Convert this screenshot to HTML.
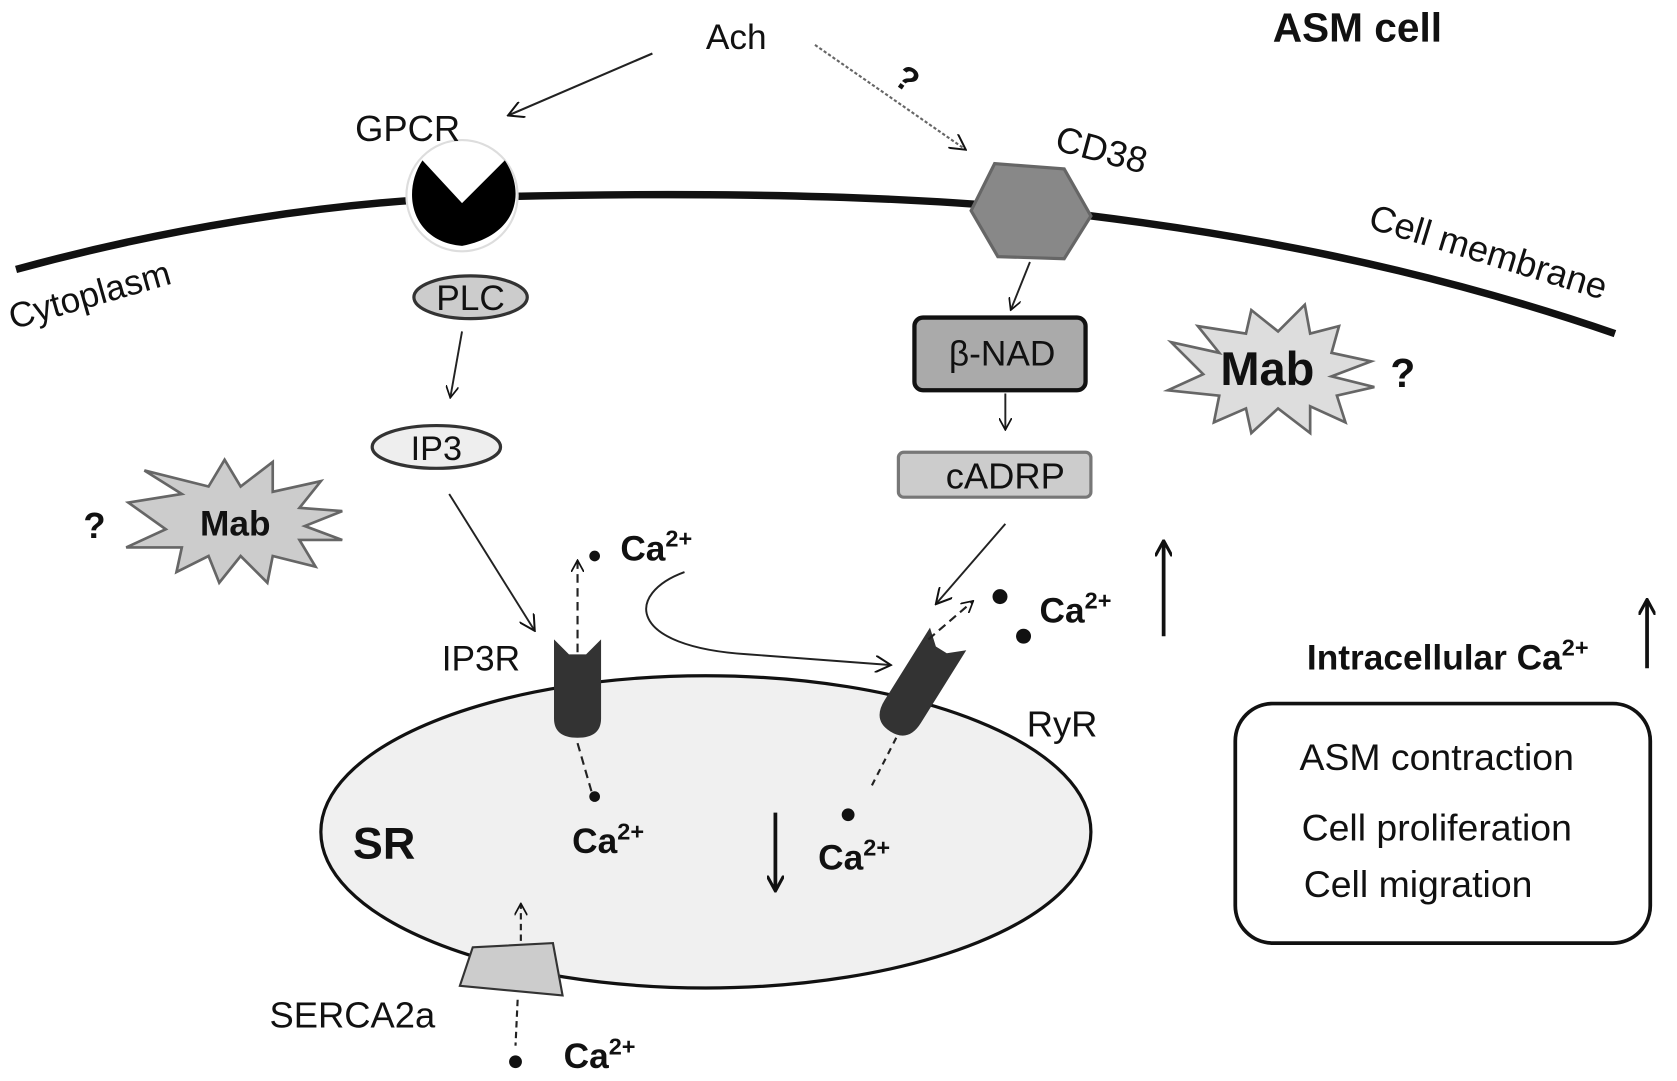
<!DOCTYPE html>
<html><head><meta charset="utf-8"><style>
html,body{margin:0;padding:0;background:#fff;}
svg{display:block;}
text{font-family:"Liberation Sans",Arial,sans-serif;fill:#111;}
.b{font-weight:bold;}
</style></head><body>
<svg width="1677" height="1081" viewBox="0 0 1568 1011" preserveAspectRatio="none" xmlns="http://www.w3.org/2000/svg">
<defs>
<marker id="oa" viewBox="0 0 12 12" refX="11" refY="6" markerWidth="12" markerHeight="12" markerUnits="userSpaceOnUse" orient="auto"><path d="M0,0 L11,6 L0,12" fill="none" stroke="#111" stroke-width="1.6"/></marker>
<marker id="oa2" viewBox="0 0 12 12" refX="11" refY="6" markerWidth="16" markerHeight="16" markerUnits="userSpaceOnUse" orient="auto"><path d="M0,0 L11,6 L0,12" fill="none" stroke="#111" stroke-width="1.4"/></marker>
<marker id="sa" viewBox="0 0 12 12" refX="10" refY="6" markerWidth="16" markerHeight="16" markerUnits="userSpaceOnUse" orient="auto"><path d="M0,0 L11,6 L0,12" fill="none" stroke="#111" stroke-width="2.2"/></marker>
</defs>

<path d="M15,252 C150,215 300,190 430,185 C600,180 800,180 960,195 C1150,215 1330,250 1510,312" fill="none" stroke="#111" stroke-width="7"/>

<text x="660" y="46" font-size="33">Ach</text>
<line x1="610" y1="50" x2="475" y2="108" stroke="#222" stroke-width="2" marker-end="url(#oa2)"/>
<line x1="762" y1="42" x2="903" y2="140" stroke="#666" stroke-width="2" stroke-dasharray="3,2" marker-end="url(#oa2)"/>
<text x="838" y="86" font-size="32" class="b" transform="rotate(35 850 75)">?</text>
<text x="1190" y="39" font-size="38" class="b">ASM cell</text>

<circle cx="432" cy="183" r="52" fill="#fff" stroke="#ddd" stroke-width="2"/>
<path d="M395,150 L432,190 L472,150 C492,180 484,220 432,230 C385,226 375,180 395,150 Z" fill="#000"/>
<text x="332" y="132" font-size="34">GPCR</text>
<text x="12" y="308" font-size="33" transform="rotate(-16 12 308)">Cytoplasm</text>

<polygon points="930,153 995,158 1020,202 995,242 933,240 908,197" fill="#888" stroke="#666" stroke-width="3"/>
<text x="985" y="140" font-size="34" transform="rotate(15 985 140)">CD38</text>
<text x="1278" y="213" font-size="34" transform="rotate(17 1278 213)">Cell membrane</text>

<ellipse cx="440" cy="278" rx="53" ry="20" fill="#ccc" stroke="#333" stroke-width="3"/>
<text x="440" y="290" font-size="33" text-anchor="middle">PLC</text>
<line x1="432" y1="310" x2="421" y2="372" stroke="#222" stroke-width="1.8" marker-end="url(#oa)"/>
<ellipse cx="408" cy="418" rx="60" ry="20" fill="#eee" stroke="#333" stroke-width="3"/>
<text x="408" y="430" font-size="32" text-anchor="middle">IP3</text>
<line x1="420" y1="462" x2="500" y2="590" stroke="#222" stroke-width="1.8" marker-end="url(#oa2)"/>

<polygon points="120,470 170,462 135,440 195,455 210,430 225,455 255,432 255,460 300,450 280,475 320,478 285,492 320,505 280,505 295,530 255,520 250,545 225,520 205,545 195,520 165,535 170,512 118,512 155,495" fill="#ccc" stroke="#666" stroke-width="2.5"/>
<text x="220" y="501" font-size="33" class="b" text-anchor="middle">Mab</text>
<text x="78" y="503" font-size="34" class="b">?</text>

<polygon points="1095,320 1140,330 1120,305 1165,312 1170,290 1195,310 1220,285 1225,312 1252,305 1245,330 1282,338 1245,352 1285,362 1250,370 1258,395 1225,380 1225,405 1195,382 1170,405 1165,382 1135,395 1140,370 1092,365 1125,350" fill="#ddd" stroke="#666" stroke-width="2.5"/>
<text x="1185" y="360" font-size="44" class="b" text-anchor="middle">Mab</text>
<text x="1300" y="362" font-size="38" class="b">?</text>

<line x1="963" y1="245" x2="945" y2="290" stroke="#222" stroke-width="1.8" marker-end="url(#oa)"/>
<rect x="855" y="297" width="160" height="68" rx="8" fill="#aaa" stroke="#111" stroke-width="4"/>
<text x="937" y="342" font-size="33" text-anchor="middle">β-NAD</text>
<line x1="940" y1="368" x2="940" y2="402" stroke="#222" stroke-width="1.8" marker-end="url(#oa)"/>
<rect x="840" y="423" width="180" height="42" rx="5" fill="#ccc" stroke="#777" stroke-width="3"/>
<text x="940" y="457" font-size="34" text-anchor="middle">cADRP</text>
<line x1="940" y1="490" x2="875" y2="565" stroke="#222" stroke-width="1.8" marker-end="url(#oa2)"/>

<ellipse cx="660" cy="778" rx="360" ry="146" fill="#f0f0f0" stroke="#111" stroke-width="3"/>
<text x="330" y="803" font-size="42" class="b">SR</text>

<path d="M518,598 L518,672 Q518,690 540,690 Q562,690 562,672 L562,598 L548,612 L532,612 Z" fill="#333"/>
<line x1="540" y1="610" x2="540" y2="524" stroke="#222" stroke-width="2" stroke-dasharray="8,5" marker-end="url(#oa)"/>
<line x1="540" y1="695" x2="553" y2="740" stroke="#222" stroke-width="2" stroke-dasharray="8,5"/>
<text x="413" y="627" font-size="33">IP3R</text>
<circle cx="556" cy="520" r="5" fill="#111"/>
<text x="580" y="524" font-size="33" class="b">Ca<tspan font-size="22" dy="-13">2+</tspan></text>
<circle cx="556" cy="745" r="5" fill="#111"/>
<text x="535" y="798" font-size="33" class="b">Ca<tspan font-size="22" dy="-13">2+</tspan></text>

<path d="M640,535 C585,555 585,605 700,612 L833,622" fill="none" stroke="#222" stroke-width="1.8" marker-end="url(#oa2)"/>

<g transform="rotate(32 860 640)">
<path d="M840,590 L840,670 Q840,692 860,692 Q880,692 880,670 L880,590 L866,602 L854,602 Z" fill="#333"/>
</g>
<line x1="868" y1="598" x2="910" y2="562" stroke="#222" stroke-width="2" stroke-dasharray="8,5" marker-end="url(#oa)"/>
<line x1="838" y1="690" x2="815" y2="735" stroke="#222" stroke-width="2" stroke-dasharray="6,5"/>
<circle cx="935" cy="558" r="7" fill="#111"/>
<circle cx="957" cy="595" r="7" fill="#111"/>
<text x="972" y="582" font-size="33" class="b">Ca<tspan font-size="22" dy="-13">2+</tspan></text>
<text x="960" y="689" font-size="34">RyR</text>
<circle cx="793" cy="762" r="6" fill="#111"/>
<text x="765" y="813" font-size="33" class="b">Ca<tspan font-size="22" dy="-13">2+</tspan></text>
<line x1="725" y1="760" x2="725" y2="832" stroke="#111" stroke-width="3.5" marker-end="url(#sa)"/>

<polygon points="442,886 517,882 526,931 430,922" fill="#ccc" stroke="#333" stroke-width="2"/>
<line x1="487" y1="880" x2="487" y2="845" stroke="#222" stroke-width="2" stroke-dasharray="6,4" marker-end="url(#oa)"/>
<line x1="484" y1="935" x2="482" y2="978" stroke="#222" stroke-width="2" stroke-dasharray="6,4"/>
<text x="252" y="961" font-size="34">SERCA2a</text>
<circle cx="482" cy="993" r="6" fill="#111"/>
<text x="527" y="999" font-size="33" class="b">Ca<tspan font-size="22" dy="-13">2+</tspan></text>

<line x1="1088" y1="595" x2="1088" y2="507" stroke="#111" stroke-width="3.5" marker-end="url(#sa)"/>
<line x1="1540" y1="625" x2="1540" y2="562" stroke="#111" stroke-width="3.5" marker-end="url(#sa)"/>
<text x="1222" y="626" font-size="33" class="b">Intracellular Ca<tspan font-size="22" dy="-13">2+</tspan></text>
<rect x="1155" y="658" width="388" height="224" rx="35" fill="#fff" stroke="#111" stroke-width="3.5"/>
<text x="1215" y="720" font-size="35">ASM contraction</text>
<text x="1217" y="786" font-size="35">Cell proliferation</text>
<text x="1219" y="839" font-size="35">Cell migration</text>
</svg>
</body></html>
